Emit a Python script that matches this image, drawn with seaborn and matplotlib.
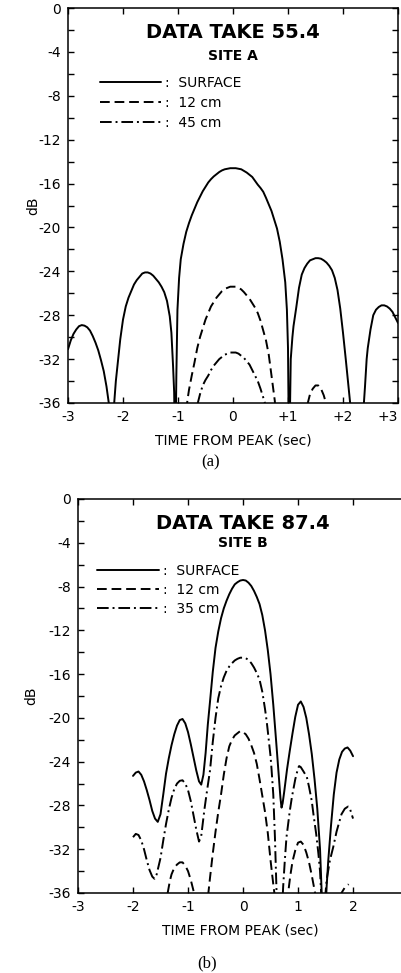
import matplotlib
matplotlib.use("Agg")
import numpy as np
import pandas as pd
import matplotlib.pyplot as plt
import seaborn as sns

# ---- panel (a): data take 55.4, site A ----
a_surf_t = [-3.0, -2.95, -2.9, -2.85, -2.8, -2.75, -2.7, -2.65, -2.6, -2.55, -2.5, -2.45,
            -2.4, -2.35, -2.3, -2.25, -2.2,
            -2.16, -2.13, -2.1, -2.05, -2.0, -1.95, -1.9, -1.85, -1.8, -1.75, -1.7, -1.65,
            -1.6, -1.55, -1.5, -1.45, -1.4, -1.35, -1.3, -1.25, -1.2, -1.15, -1.12, -1.09,
            -1.07, -1.05,
            -1.03, -1.01, -0.98, -0.95, -0.9, -0.85, -0.8, -0.75, -0.7, -0.65, -0.6, -0.55,
            -0.5, -0.45, -0.4, -0.35, -0.3, -0.25, -0.2, -0.15, -0.1, -0.05, 0.0, 0.05, 0.1,
            0.15, 0.2, 0.25, 0.3, 0.35, 0.4, 0.45, 0.5, 0.55, 0.6, 0.65, 0.7, 0.75, 0.8,
            0.85, 0.9, 0.95, 0.98, 1.0, 1.02,
            1.05, 1.08, 1.1, 1.13, 1.15, 1.2, 1.25, 1.3, 1.35, 1.4, 1.45, 1.5, 1.55, 1.6,
            1.65, 1.7, 1.75, 1.8, 1.85, 1.9, 1.95, 2.0, 2.05, 2.1, 2.13, 2.2, 2.3, 2.36,
            2.38, 2.4, 2.43, 2.45, 2.5, 2.55, 2.6, 2.65, 2.7, 2.75, 2.8, 2.85, 2.9, 2.95, 3.0]
a_surf_db = [-31.1, -30.3, -29.7, -29.3, -29.0, -28.9, -28.95, -29.1, -29.4, -29.9, -30.5, -31.2,
             -32.1, -33.1, -34.5, -36.3, -42.0,
             -36.0, -34.0, -32.6, -30.2, -28.4, -27.2, -26.4, -25.8, -25.2, -24.8, -24.5, -24.2,
             -24.1, -24.1, -24.2, -24.4, -24.7, -25.0, -25.4, -25.9, -26.7, -28.1, -29.6, -32.6,
             -35.0, -42.0,
             -33.5, -27.5, -24.6, -22.9, -21.5, -20.4, -19.6, -18.9, -18.3, -17.7, -17.2, -16.7,
             -16.3, -15.9, -15.6, -15.35, -15.15, -14.95, -14.8, -14.7, -14.65, -14.6, -14.6, -14.6, -14.65,
             -14.7, -14.85, -15.0, -15.2, -15.4, -15.75, -16.1, -16.4, -16.75, -17.3, -17.9, -18.5, -19.3, -20.1,
             -21.3, -22.9, -25.0, -27.5, -31.0, -42.0,
             -32.0, -30.0, -29.0, -28.0, -27.3, -25.5, -24.3, -23.7, -23.3, -23.0, -22.9, -22.8, -22.8, -22.85,
             -23.0, -23.2, -23.5, -23.9, -24.6, -25.7, -27.4, -29.6, -32.0, -34.5, -36.0, -42.0, -44.0, -38.0,
             -36.0, -34.5, -32.0, -31.0, -29.3, -28.0, -27.5, -27.25, -27.1, -27.1, -27.2, -27.4, -27.7, -28.2, -28.7]

a_12_t = [-0.9, -0.85, -0.83, -0.8, -0.75, -0.7, -0.65, -0.6, -0.55, -0.5, -0.45, -0.4, -0.35,
          -0.3, -0.25, -0.2, -0.15, -0.1, -0.05, 0.0, 0.05, 0.1, 0.15, 0.2, 0.25, 0.3, 0.35,
          0.4, 0.45, 0.5, 0.55, 0.6, 0.65, 0.7, 0.76, 0.8, 0.9,
          1.3, 1.36, 1.4, 1.45, 1.5, 1.55, 1.6, 1.65, 1.69, 1.75]
a_12_db = [-42.0, -37.0, -35.8, -34.8, -33.5, -32.3, -31.0, -30.0, -29.2, -28.4, -27.8, -27.2, -26.8,
           -26.4, -26.1, -25.8, -25.6, -25.5, -25.4, -25.4, -25.4, -25.5, -25.65, -25.9, -26.2, -26.5, -26.9,
           -27.3, -27.8, -28.5, -29.4, -30.3, -31.6, -33.5, -35.8, -38.5, -42.0,
           -40.0, -36.0, -35.2, -34.7, -34.4, -34.4, -34.7, -35.3, -36.0, -39.0]

a_45_t = [-0.75, -0.68, -0.64, -0.6, -0.55, -0.5, -0.45, -0.4, -0.35, -0.3, -0.25, -0.2, -0.15,
          -0.1, -0.05, 0.0, 0.05, 0.1, 0.15, 0.2, 0.25, 0.3, 0.35, 0.4, 0.45, 0.5, 0.55, 0.58, 0.65]
a_45_db = [-40.0, -37.0, -36.0, -35.2, -34.4, -33.9, -33.5, -33.0, -32.6, -32.3, -32.0, -31.8, -31.6,
           -31.5, -31.4, -31.4, -31.4, -31.5, -31.7, -31.9, -32.2, -32.5, -33.0, -33.5, -34.0, -34.7, -35.5,
           -36.0, -39.0]

# ---- panel (b): data take 87.4, site B ----
b_surf_t = [-2.0, -1.95, -1.9, -1.85, -1.8, -1.75, -1.7, -1.65, -1.6, -1.55, -1.5, -1.45, -1.4,
            -1.35, -1.3, -1.25, -1.2, -1.15, -1.1, -1.05, -1.0, -0.95, -0.9, -0.85, -0.8, -0.76,
            -0.72, -0.68, -0.64, -0.6, -0.55, -0.5, -0.45, -0.4, -0.35, -0.3, -0.25, -0.2, -0.15,
            -0.1, -0.05, 0.0, 0.05, 0.1, 0.15, 0.2, 0.25, 0.3, 0.35, 0.4, 0.45, 0.5, 0.55, 0.6,
            0.65, 0.68, 0.7, 0.72, 0.75, 0.8, 0.85, 0.9, 0.95, 1.0, 1.05, 1.1, 1.15, 1.2, 1.25,
            1.3, 1.35, 1.4, 1.43, 1.47, 1.5, 1.52, 1.55, 1.6, 1.65, 1.7, 1.75, 1.8, 1.85, 1.9,
            1.95, 2.0]
b_surf_db = [-25.3, -25.0, -24.9, -25.2, -25.8, -26.6, -27.5, -28.5, -29.2, -29.5, -28.8, -27.0, -25.1,
             -23.7, -22.5, -21.5, -20.7, -20.2, -20.1, -20.5, -21.3, -22.4, -23.6, -24.8, -25.8, -26.1,
             -25.2, -23.2, -20.6, -18.5, -15.8, -13.6, -12.1, -10.9, -10.0, -9.3, -8.7, -8.2, -7.8,
             -7.6, -7.45, -7.4, -7.45, -7.65, -7.95, -8.4, -8.95, -9.6, -10.6, -12.0, -13.8, -16.0, -18.8, -22.0,
             -25.3, -27.3, -28.2, -27.8, -26.7, -24.7, -23.0, -21.4, -19.9, -18.8, -18.5, -19.0, -20.0, -21.5, -23.3,
             -25.6, -28.3, -32.0, -36.0, -42.0, -37.5, -35.4, -33.0, -29.8, -27.0, -25.0, -23.8, -23.1, -22.8, -22.7,
             -23.0, -23.5]

b_12_t = [-1.45, -1.37, -1.33, -1.3, -1.25, -1.2, -1.15, -1.1, -1.05, -1.0, -0.95, -0.89, -0.8,
          -0.7, -0.63, -0.6, -0.55, -0.5, -0.45, -0.4, -0.35, -0.3, -0.25, -0.2, -0.15, -0.1,
          -0.05, 0.0, 0.05, 0.1, 0.15, 0.2, 0.25, 0.3, 0.35, 0.4, 0.45, 0.5, 0.55, 0.57, 0.65,
          0.75, 0.82, 0.86, 0.9, 0.95, 1.0, 1.05, 1.1, 1.15, 1.2, 1.25, 1.31, 1.4,
          1.7, 1.79, 1.85, 1.92]
b_12_db = [-40.0, -36.0, -34.9, -34.3, -33.7, -33.4, -33.2, -33.2, -33.5, -34.0, -34.8, -36.0, -40.0,
           -40.0, -36.0, -34.6, -32.4, -30.4, -28.6, -27.0, -25.2, -23.7, -22.6, -22.0, -21.6, -21.4,
           -21.2, -21.3, -21.5, -21.9, -22.5, -23.2, -24.2, -25.6, -27.1, -28.6, -30.5, -33.0, -35.2, -36.0, -40.0,
           -40.0, -36.0, -34.4, -33.1, -32.1, -31.4, -31.3, -31.6, -32.3, -33.2, -34.4, -36.0, -40.0,
           -40.0, -36.0, -35.5, -35.2]

b_35_t = [-2.0, -1.95, -1.9, -1.85, -1.8, -1.75, -1.7, -1.65, -1.61, -1.57, -1.5, -1.45, -1.4,
          -1.35, -1.3, -1.25, -1.2, -1.15, -1.1, -1.05, -1.0, -0.95, -0.9, -0.85, -0.8, -0.76,
          -0.7, -0.65, -0.6, -0.55, -0.5, -0.45, -0.4, -0.35, -0.3, -0.25, -0.2, -0.15, -0.1,
          -0.05, 0.0, 0.05, 0.1, 0.15, 0.2, 0.25, 0.3, 0.35, 0.4, 0.43, 0.45, 0.5, 0.52, 0.55,
          0.58, 0.61, 0.65, 0.7, 0.73, 0.76, 0.79, 0.85, 0.89, 0.95, 1.0, 1.02, 1.05, 1.1,
          1.16, 1.2, 1.25, 1.28, 1.33, 1.37, 1.4, 1.43, 1.47, 1.5, 1.52, 1.58, 1.64, 1.7,
          1.75, 1.79, 1.85, 1.91, 1.95, 2.0]
b_35_db = [-30.9, -30.6, -30.7, -31.2, -32.0, -33.0, -33.9, -34.5, -34.7, -34.3, -32.8, -31.2, -29.7,
           -28.4, -27.3, -26.5, -26.0, -25.75, -25.7, -26.0, -26.6, -27.6, -28.9, -30.2, -31.3, -30.8,
           -28.3, -26.5, -24.8, -22.2, -20.0, -18.2, -17.1, -16.3, -15.7, -15.3, -15.0, -14.75, -14.6,
           -14.5, -14.5, -14.55, -14.7, -15.0, -15.4, -15.9, -16.5, -17.6, -19.2, -20.3, -21.2, -23.5, -24.8, -27.0,
           -30.9, -36.0, -41.0, -38.5, -35.4, -33.0, -30.9, -28.5, -27.2, -25.6, -24.6, -24.4, -24.5, -24.9,
           -25.4, -26.3, -27.6, -28.8, -30.6, -32.4, -34.0, -37.0, -40.0, -36.0, -34.8, -33.0, -31.8, -30.4,
           -29.5, -28.8, -28.3, -28.1, -28.4, -29.2]

sns.set_style("ticks")
plt.rcParams["font.family"] = ["Liberation Sans Narrow", "DejaVu Sans"]
plt.rcParams["axes.unicode_minus"] = False
plt.rcParams["axes.linewidth"] = 1.1
for key in ("text.color", "axes.labelcolor", "xtick.color", "ytick.color", "axes.edgecolor"):
    plt.rcParams[key] = "black"

fig = plt.figure(figsize=(4.02, 9.73), dpi=100)
ax_a = fig.add_axes([68 / 402, 1 - 403 / 973, 330 / 402, 395 / 973])
ax_b = fig.add_axes([78 / 402, 1 - 893 / 973, 324 / 402, 394 / 973])

solid = "-"
dash = (0, (5, 2.5))
dashdot = (0, (6, 2, 1, 2))

def draw(ax, t, db, ls, label):
    sns.lineplot(x=t, y=db, ax=ax, color="black", linewidth=1.4, linestyle=ls,
                 estimator=None, sort=False, label=label)

draw(ax_a, a_surf_t, a_surf_db, solid, ":  SURFACE")
draw(ax_a, a_12_t, a_12_db, dash, ":  12 cm")
draw(ax_a, a_45_t, a_45_db, dashdot, ":  45 cm")

draw(ax_b, b_surf_t, b_surf_db, solid, ":  SURFACE")
draw(ax_b, b_12_t, b_12_db, dash, ":  12 cm")
draw(ax_b, b_35_t, b_35_db, dashdot, ":  35 cm")

for ax in (ax_a, ax_b):
    ax.set_ylim(-36, 0)
    ax.set_yticks(range(-36, 1, 4))
    ax.set_yticks(range(-34, 0, 4), minor=True)
    ax.set_xlabel("TIME FROM PEAK (sec)", fontsize=10, labelpad=7)
    ax.tick_params(which="both", direction="in", length=4, width=1, top=True, labelsize=10, pad=5)

ax_a.set_ylabel("dB", fontsize=10, labelpad=-1)
ax_b.set_ylabel("dB", fontsize=10, labelpad=7)

ax_a.legend(loc="upper left", frameon=False, handlelength=4.4, handletextpad=0.3,
            labelspacing=0.42, fontsize=10, borderaxespad=0, borderpad=0,
            bbox_to_anchor=(0.097, 0.828))
ax_b.legend(loc="upper left", frameon=False, handlelength=4.4, handletextpad=0.3,
            labelspacing=0.35, fontsize=10, borderaxespad=0, borderpad=0,
            bbox_to_anchor=(0.06, 0.835))

ax_a.set_xlim(-3, 3)
ax_a.set_xticks(range(-3, 4))
ax_a.set_xticklabels(["-3", "-2", "-1", "0", "+1", "+2", "+3"])
ax_a.get_xticklabels()[-1].set_horizontalalignment("right")
ax_a.tick_params(which="both", right=True)

ax_b.set_xlim(-3, 2.89)
ax_b.set_xticks(range(-3, 3))
ax_b.set_xticklabels(["-3", "-2", "-1", "0", "1", "2"])
ax_b.spines["right"].set_visible(False)

ax_a.text(0, -2.2, "DATA TAKE 55.4", ha="center", va="center", fontsize=14,
          fontweight="bold", family="DejaVu Sans")
ax_a.text(0, -4.4, "SITE A", ha="center", va="center", fontsize=10,
          fontweight="bold", family="DejaVu Sans")
ax_b.text(0, -2.25, "DATA TAKE 87.4", ha="center", va="center", fontsize=14,
          fontweight="bold", family="DejaVu Sans")
ax_b.text(0, -4.05, "SITE B", ha="center", va="center", fontsize=10,
          fontweight="bold", family="DejaVu Sans")

fig.text(211 / 402, 1 - 462 / 973, "(a)", ha="center", va="center", fontsize=12,
         family="Liberation Serif")
fig.text(207 / 402, 1 - 963 / 973, "(b)", ha="center", va="center", fontsize=12,
         family="Liberation Serif")

fig.savefig("out.png", dpi=100)
